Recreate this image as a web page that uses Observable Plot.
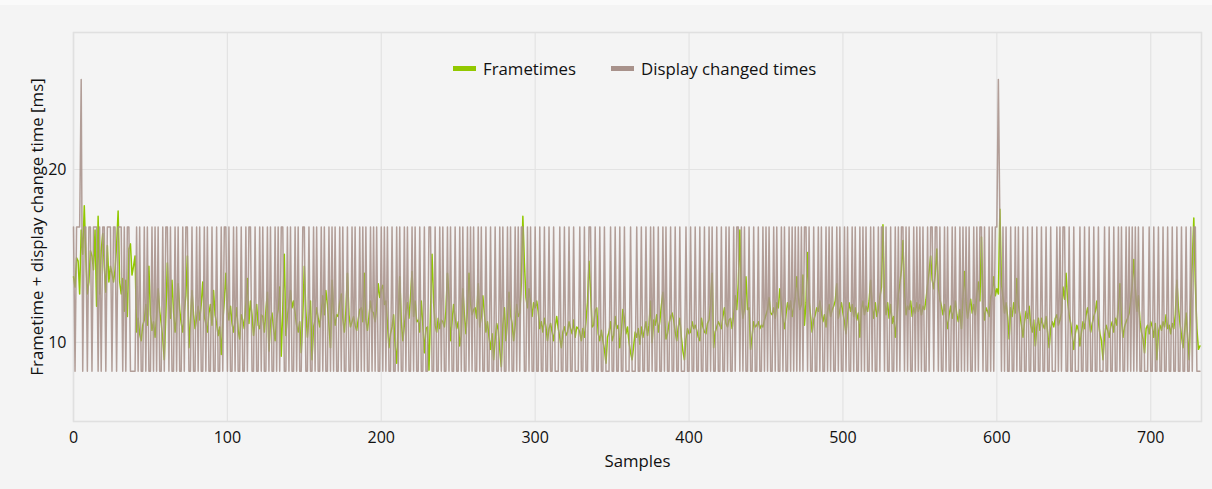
<!DOCTYPE html>
<html><head><meta charset="utf-8">
<script src="https://cdn.jsdelivr.net/npm/d3@7"></script>
<script src="https://cdn.jsdelivr.net/npm/@observablehq/plot@0.6"></script>
<style>
html,body{margin:0;padding:0;background:#f4f4f4;}
#wrap{position:relative;width:1212px;height:489px;font-family:"Open Sans",sans-serif;overflow:hidden;}
#topband{position:absolute;left:0;top:0;width:1212px;height:5px;background:#fafafa;}
#legend{position:absolute;top:57px;left:453px;display:flex;align-items:center;font-size:16.8px;color:#111;}
.item{display:flex;align-items:center;margin-right:35px;}
.sw{display:inline-block;width:23px;height:5px;margin-right:7px;}
</style></head>
<body>
<div id="wrap"><div id="topband"></div><div id="chart"></div>
<div id="legend"></div></div>
<script>
const seriesNames = ["Frametimes", "Display changed times"];
const seriesColors = ["#92c800", "#a8928b"];
const xTicks = [0, 100, 200, 300, 400, 500, 600, 700];
const yTicks = [10, 20];
const xLabel = "Samples";
const yLabel = "Frametime + display change time [ms]";

const frametimes = [
13.8,13.2,14.9,14.7,12.8,16.5,15.1,17.9,15.0,12.8,
13.5,15.3,15.0,14.2,16.5,12.1,17.3,12.8,15.3,16.3,
14.4,12.9,15.6,13.5,14.4,14.0,13.5,14.2,15.6,17.6,
13.5,12.8,13.7,11.8,13.6,11.5,15.4,15.7,13.9,14.4,
15.0,10.6,11.4,10.5,10.1,11.0,11.3,12.2,11.0,14.4,
11.6,10.7,11.2,10.3,11.5,13.1,11.8,11.1,10.2,9.0,
11.6,14.6,12.2,11.4,13.6,11.8,10.6,11.5,13.4,11.9,
11.1,10.6,11.8,12.7,15.0,9.7,11.2,13.0,11.6,10.8,
11.4,12.1,11.3,12.2,13.5,11.5,11.1,10.6,11.7,12.2,
11.0,13.0,11.6,11.1,10.4,10.9,9.3,11.2,12.4,14.0,
12.0,11.3,12.1,11.1,10.6,11.3,12.0,10.7,10.2,11.6,
11.3,10.8,12.3,13.7,11.1,12.4,11.6,10.4,11.2,12.2,
11.0,10.8,11.6,11.5,10.6,11.8,12.9,9.5,11.2,11.7,
10.8,10.1,11.4,11.9,13.2,9.2,12.0,15.1,10.4,11.6,
12.1,13.0,12.0,12.4,11.7,11.0,10.6,11.2,9.4,11.5,
14.4,11.8,10.3,11.5,12.4,9.0,10.9,11.3,12.0,11.4,
10.9,11.8,12.7,11.6,13.0,12.2,11.0,9.7,13.6,11.7,
11.0,11.6,11.5,12.3,12.8,11.4,10.6,11.8,14.0,11.6,
10.9,11.2,11.5,11.0,10.7,11.3,11.9,12.0,11.2,14.0,
11.3,10.7,11.5,12.4,11.8,11.7,11.2,12.1,13.4,12.6,
13.1,13.3,12.2,12.4,11.1,9.7,10.5,10.9,11.6,9.8,
8.8,11.0,13.8,11.2,10.1,11.0,11.8,12.3,11.4,12.6,
14.1,11.5,12.4,11.2,11.3,10.6,12.4,11.0,9.4,10.8,
10.9,8.4,11.8,15.1,12.3,11.0,10.6,11.4,10.8,11.3,
11.2,10.9,11.8,14.0,12.6,10.1,11.2,12.2,11.4,10.8,
11.2,9.8,10.4,13.1,11.6,10.5,11.9,14.0,12.3,11.6,
11.9,12.0,11.4,13.4,10.9,11.5,12.7,11.7,10.6,11.2,
10.3,9.6,10.5,9.0,10.2,11.1,10.7,9.6,8.6,11.0,
12.0,10.1,11.3,12.9,11.6,11.1,10.1,11.0,12.2,11.5,
11.7,13.4,17.3,14.6,12.6,12.0,13.1,12.4,11.5,12.3,
12.0,12.4,11.8,10.8,11.2,10.6,11.4,10.9,10.1,10.8,
11.1,10.6,10.1,10.9,11.5,10.8,10.3,9.7,10.6,10.9,
10.4,10.6,11.2,10.8,10.5,11.3,10.3,10.9,10.8,10.6,
10.1,10.8,10.3,11.2,12.3,14.7,13.0,10.9,11.0,11.8,
12.0,10.5,10.1,10.7,10.1,9.6,8.8,10.3,10.6,11.2,
10.1,10.4,11.5,10.8,11.0,9.7,10.6,11.9,11.4,10.5,
10.9,10.0,9.4,9.0,9.8,10.6,10.3,10.8,9.9,10.9,
10.3,10.7,11.2,10.4,11.0,12.4,10.0,11.3,11.0,11.6,
10.6,11.2,12.1,12.9,11.6,10.2,10.5,11.1,11.5,11.7,
11.3,10.6,10.1,10.9,11.4,10.3,9.5,9.0,10.2,10.8,
10.5,10.6,11.2,10.8,11.0,10.7,10.3,10.1,11.4,10.9,
10.6,10.5,11.1,11.3,12.2,14.0,9.7,10.6,10.9,11.2,
11.0,10.8,11.5,12.0,11.1,10.9,11.3,11.4,10.8,11.6,
12.7,11.9,13.4,16.5,12.6,11.4,12.0,13.8,11.9,12.0,
9.6,10.4,11.2,10.9,11.0,11.2,10.8,11.0,10.9,11.3,
11.6,11.9,12.6,11.7,11.6,12.0,11.4,12.3,12.0,13.1,
12.2,11.3,10.8,11.6,12.3,11.9,12.4,11.5,12.0,12.6,
13.8,12.7,11.9,12.2,13.9,11.0,12.3,15.2,12.4,11.5,
10.6,11.3,11.6,12.0,11.8,12.4,11.7,11.2,11.6,10.9,
11.8,12.2,11.5,11.9,12.1,12.4,13.4,11.4,11.9,12.3,
11.7,11.2,10.5,11.6,12.3,11.8,12.2,11.5,12.0,11.3,
11.7,10.3,11.9,12.4,11.6,12.1,11.8,12.4,13.6,12.0,
11.4,12.3,11.5,11.9,12.6,13.2,16.8,12.5,11.6,12.3,
11.4,12.2,11.1,11.5,10.3,11.3,12.8,13.4,14.2,15.9,
12.9,11.6,12.1,11.9,12.4,11.5,12.0,11.7,12.3,11.8,
12.2,11.6,12.1,11.9,12.5,13.3,14.1,15.0,13.6,13.1,
14.0,15.4,13.2,12.5,12.1,11.6,12.2,11.4,10.8,11.6,
12.1,11.4,11.8,12.4,11.6,11.2,11.9,10.8,12.6,14.1,
12.3,11.4,12.0,12.5,11.7,12.2,11.6,12.8,13.5,12.4,
16.1,12.2,11.3,12.0,11.8,11.5,12.6,12.9,13.8,12.7,
13.1,12.8,17.7,13.4,12.6,11.7,12.3,11.5,10.2,12.0,
11.5,12.3,11.7,13.7,12.2,11.6,11.0,10.3,11.2,11.8,
11.4,12.1,11.0,10.6,11.3,9.8,10.9,11.4,10.7,11.4,
11.0,10.8,11.5,10.6,9.7,10.8,11.2,10.9,11.4,11.6,
11.0,11.3,11.7,13.2,12.5,14.0,12.4,11.6,11.1,10.4,
9.6,10.5,11.0,10.7,9.8,10.6,11.2,10.8,11.6,12.0,
11.3,10.6,11.1,11.5,11.8,12.4,11.2,10.5,10.1,9.0,
10.4,11.0,10.7,10.3,10.9,11.2,10.6,11.4,11.0,12.1,
13.4,11.3,10.3,10.9,11.2,11.4,11.7,12.4,13.3,14.8,
13.1,11.8,12.7,11.2,10.6,10.2,9.4,10.8,11.0,10.5,
11.2,10.9,10.3,11.1,9.0,10.6,11.0,10.7,11.2,10.9,
11.6,10.8,11.0,10.5,11.1,10.8,11.6,13.6,12.0,11.1,
10.4,9.7,10.6,11.7,10.3,9.0,12.4,14.6,17.2,13.4,
10.8,9.6,9.8
];

const displayChangedTimes = [
16.67,8.33,16.67,16.67,16.67,25.2,8.33,16.67,16.67,8.33,
16.67,16.67,8.33,16.67,16.67,16.67,8.33,16.67,8.33,16.67,
16.67,8.33,16.67,16.67,16.67,8.33,16.67,16.67,8.33,16.67,
16.67,16.67,8.33,16.67,8.33,16.67,16.67,8.33,8.33,8.33,
8.33,16.67,8.33,16.67,8.33,8.33,16.67,8.33,16.67,8.33,
8.33,16.67,8.33,16.67,8.33,16.67,8.33,8.33,16.67,8.33,
16.67,16.67,8.33,16.67,8.33,8.33,16.67,8.33,16.67,8.33,
8.33,16.67,8.33,16.67,16.67,8.33,8.33,16.67,8.33,8.33,
16.67,8.33,16.67,8.33,8.33,16.67,8.33,16.67,8.33,8.33,
16.67,8.33,8.33,16.67,8.33,8.33,16.67,8.33,16.67,16.67,
8.33,16.67,8.33,8.33,16.67,8.33,16.67,8.33,8.33,16.67,
8.33,8.33,16.67,8.33,16.67,16.67,8.33,8.33,16.67,8.33,
8.33,16.67,8.33,16.67,8.33,8.33,16.67,8.33,16.67,8.33,
8.33,16.67,8.33,16.67,8.33,16.67,16.67,8.33,8.33,16.67,
8.33,16.67,8.33,8.33,16.67,8.33,16.67,8.33,8.33,16.67,
16.67,8.33,8.33,16.67,8.33,8.33,16.67,8.33,16.67,8.33,
8.33,16.67,8.33,16.67,8.33,8.33,16.67,8.33,16.67,8.33,
16.67,8.33,8.33,16.67,8.33,16.67,8.33,8.33,16.67,8.33,
8.33,16.67,8.33,16.67,8.33,8.33,16.67,8.33,16.67,8.33,
16.67,8.33,8.33,16.67,8.33,16.67,8.33,16.67,8.33,8.33,
16.67,8.33,16.67,8.33,16.67,8.33,8.33,16.67,8.33,8.33,
16.67,8.33,16.67,8.33,8.33,16.67,8.33,16.67,8.33,8.33,
16.67,8.33,16.67,8.33,8.33,16.67,8.33,8.33,16.67,8.33,
8.33,16.67,16.67,8.33,8.33,16.67,8.33,8.33,16.67,8.33,
16.67,8.33,8.33,16.67,8.33,16.67,8.33,8.33,16.67,8.33,
8.33,16.67,8.33,16.67,8.33,8.33,16.67,8.33,16.67,8.33,
16.67,8.33,8.33,16.67,8.33,16.67,8.33,8.33,16.67,8.33,
8.33,16.67,8.33,8.33,16.67,8.33,8.33,16.67,8.33,16.67,
8.33,8.33,16.67,8.33,16.67,8.33,8.33,16.67,8.33,16.67,
8.33,16.67,16.67,8.33,8.33,16.67,8.33,16.67,8.33,8.33,
16.67,8.33,8.33,16.67,8.33,8.33,16.67,8.33,8.33,16.67,
8.33,8.33,16.67,8.33,8.33,8.33,16.67,8.33,8.33,16.67,
8.33,8.33,16.67,8.33,8.33,16.67,8.33,8.33,8.33,16.67,
8.33,8.33,16.67,8.33,8.33,16.67,16.67,8.33,8.33,16.67,
8.33,8.33,16.67,8.33,8.33,16.67,8.33,8.33,8.33,16.67,
8.33,8.33,16.67,8.33,8.33,16.67,8.33,8.33,16.67,8.33,
8.33,8.33,16.67,8.33,8.33,8.33,16.67,8.33,8.33,16.67,
8.33,8.33,16.67,8.33,8.33,16.67,8.33,16.67,8.33,8.33,
16.67,8.33,8.33,16.67,8.33,16.67,8.33,8.33,16.67,8.33,
8.33,16.67,8.33,8.33,16.67,8.33,8.33,8.33,16.67,8.33,
8.33,16.67,8.33,8.33,16.67,8.33,8.33,16.67,8.33,8.33,
16.67,8.33,8.33,16.67,8.33,16.67,8.33,8.33,16.67,8.33,
8.33,16.67,8.33,8.33,16.67,8.33,16.67,8.33,8.33,16.67,
8.33,16.67,16.67,8.33,16.67,8.33,16.67,8.33,8.33,16.67,
8.33,8.33,16.67,8.33,8.33,16.67,8.33,8.33,16.67,8.33,
16.67,8.33,16.67,8.33,8.33,16.67,8.33,16.67,8.33,8.33,
16.67,8.33,16.67,8.33,8.33,16.67,8.33,16.67,8.33,16.67,
8.33,16.67,8.33,16.67,8.33,16.67,16.67,8.33,16.67,8.33,
8.33,16.67,8.33,8.33,16.67,8.33,16.67,8.33,8.33,16.67,
8.33,16.67,8.33,16.67,8.33,8.33,16.67,8.33,16.67,8.33,
8.33,16.67,8.33,16.67,8.33,8.33,16.67,8.33,16.67,8.33,
8.33,16.67,8.33,16.67,8.33,16.67,8.33,8.33,16.67,8.33,
16.67,8.33,8.33,16.67,8.33,16.67,16.67,8.33,16.67,8.33,
8.33,16.67,8.33,8.33,16.67,8.33,16.67,8.33,16.67,16.67,
8.33,16.67,8.33,16.67,8.33,8.33,16.67,8.33,16.67,8.33,
16.67,8.33,16.67,8.33,8.33,16.67,8.33,16.67,16.67,8.33,
16.67,16.67,8.33,16.67,8.33,8.33,16.67,8.33,16.67,8.33,
8.33,16.67,8.33,16.67,8.33,8.33,16.67,8.33,16.67,8.33,
16.67,8.33,16.67,8.33,8.33,16.67,8.33,16.67,8.33,16.67,
16.67,8.33,16.67,8.33,8.33,16.67,8.33,16.67,8.33,16.67,
16.67,25.2,16.67,8.33,16.67,8.33,16.67,8.33,8.33,16.67,
8.33,8.33,16.67,8.33,16.67,8.33,8.33,16.67,8.33,8.33,
16.67,8.33,8.33,16.67,8.33,8.33,16.67,8.33,8.33,16.67,
8.33,8.33,16.67,8.33,8.33,16.67,8.33,8.33,8.33,16.67,
8.33,16.67,8.33,16.67,16.67,8.33,8.33,16.67,8.33,8.33,
16.67,8.33,8.33,8.33,16.67,8.33,8.33,16.67,8.33,8.33,
16.67,8.33,8.33,16.67,8.33,8.33,16.67,8.33,8.33,8.33,
16.67,8.33,8.33,16.67,8.33,8.33,16.67,8.33,8.33,16.67,
8.33,16.67,8.33,8.33,16.67,8.33,16.67,8.33,16.67,8.33,
16.67,8.33,16.67,8.33,8.33,16.67,8.33,8.33,8.33,16.67,
8.33,8.33,16.67,8.33,8.33,16.67,8.33,8.33,16.67,8.33,
8.33,16.67,8.33,8.33,16.67,8.33,8.33,16.67,8.33,8.33,
16.67,8.33,8.33,16.67,8.33,8.33,16.67,8.33,16.67,16.67,
8.33,8.33,8.33
];

const font = "'Open Sans', sans-serif";
const chart = Plot.plot({
  width: 1212,
  height: 489,
  marginLeft: 73,
  marginRight: 11,
  marginTop: 32,
  marginBottom: 68,
  style: {background: "transparent", fontFamily: font, fontSize: "16px", color: "#111", overflow: "visible"},
  x: {domain: [0, 733]},
  y: {domain: [5.43, 27.92]},
  marks: [
    Plot.gridX(xTicks, {stroke: "#e3e3e3", strokeOpacity: 1, strokeWidth: 1.2}),
    Plot.gridY(yTicks, {stroke: "#e3e3e3", strokeOpacity: 1, strokeWidth: 1.2}),
    Plot.frame({stroke: "#e0e0e0", strokeWidth: 1.6}),
    Plot.axisX({ticks: xTicks, tickSize: 0, tickPadding: 10, fontSize: 16, label: null, fill: "#111"}),
    Plot.axisY({ticks: yTicks, tickSize: 0, tickPadding: 7, fontSize: 16, label: null, fill: "#111"}),
    Plot.text([xLabel], {frameAnchor: "bottom", dy: 45, text: d => d, fontSize: 16.8, fill: "#111"}),
    Plot.text([yLabel], {frameAnchor: "left", dx: -36, rotate: -90, textAnchor: "middle", text: d => d, fontSize: 16.8, fill: "#111"}),
    Plot.lineY(frametimes, {stroke: seriesColors[0], strokeWidth: 1.5}),
    Plot.lineY(displayChangedTimes, {stroke: seriesColors[1], strokeWidth: 1.5, strokeOpacity: 0.88})
  ]
});
document.getElementById("chart").appendChild(chart);

const legend = document.getElementById("legend");
seriesNames.forEach((n, i) => {
  const it = document.createElement("div");
  it.className = "item";
  const sw = document.createElement("span");
  sw.className = "sw";
  sw.style.background = seriesColors[i];
  const t = document.createElement("span");
  t.textContent = n;
  it.appendChild(sw); it.appendChild(t);
  legend.appendChild(it);
});
</script>
</body></html>
